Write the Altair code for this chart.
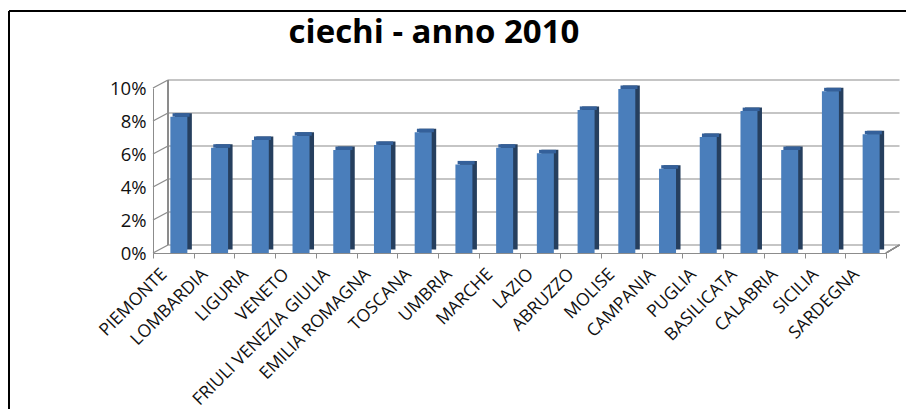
import altair as alt
import pandas as pd

regions = ["PIEMONTE", "LOMBARDIA", "LIGURIA", "VENETO", "FRIULI VENEZIA GIULIA",
           "EMILIA ROMAGNA", "TOSCANA", "UMBRIA", "MARCHE", "LAZIO", "ABRUZZO",
           "MOLISE", "CAMPANIA", "PUGLIA", "BASILICATA", "CALABRIA", "SICILIA", "SARDEGNA"]
values = [8.26, 6.38, 6.85, 7.11, 6.24, 6.55, 7.32, 5.37, 6.38, 6.04, 8.67,
          9.94, 5.11, 7.03, 8.60, 6.24, 9.80, 7.19]
y_ticks = [0, 2, 4, 6, 8, 10]
title_text = ["ciechi - anno 2010"]

W, H = 733, 165
DX, DY = 15, -8  # depth of the back wall

df = pd.DataFrame({"region": regions, "v": values})
grid = pd.DataFrame({"t": y_ticks})
tdf = pd.DataFrame({"title": title_text})

FONT = "Open Sans"
GRID = "#8c8c8c"

yscale = alt.Scale(domain=[0, 10], nice=False)
yaxis = alt.Axis(title=None, values=y_ticks, labelExpr="datum.value + '%'",
                 labelFont=FONT, labelFontSize=18.5, labelColor="#111111",
                 ticks=False, labelPadding=7, domainColor=GRID, grid=False,
                 labelOverlap=False)
xscale = alt.Scale(paddingInner=0, paddingOuter=0)
xaxis = alt.Axis(title=None, labelAngle=-45, labelFont=FONT, labelFontSize=17.5,
                 labelColor="#111111", labelOffset=-16, labelPadding=7,
                 tickBand="extent", tickColor=GRID, tickSize=5,
                 domainColor=GRID, labelLimit=400, labelOverlap=False)
xenc = alt.X("region:N", sort=regions, scale=xscale, axis=xaxis)

gridlines = alt.Chart(grid).mark_rule(color=GRID, strokeWidth=1.2, yOffset=DY).encode(
    y=alt.Y("t:Q", scale=yscale, axis=yaxis),
    x=alt.value(DX), x2=alt.value(W + 13.5))

diag = alt.Chart(grid).mark_rule(color=GRID, strokeWidth=1.2, y2Offset=DY).encode(
    y=alt.Y("t:Q", scale=yscale, axis=yaxis), y2="t:Q", x=alt.value(0), x2=alt.value(DX))

backleft = alt.Chart(grid).mark_rule(color=GRID, strokeWidth=1.2, yOffset=DY, y2Offset=DY).encode(
    y=alt.Y(datum=0, scale=yscale, axis=yaxis), y2=alt.datum(10), x=alt.value(DX))

floor_right = alt.Chart(grid).mark_rule(color=GRID, strokeWidth=1.2, y2Offset=DY).encode(
    y=alt.Y(datum=0, scale=yscale, axis=yaxis), y2=alt.datum(0),
    x=alt.value(W), x2=alt.value(W + 13.5))

side = alt.Chart(df).mark_bar(size=17, xOffset=10, yOffset=-3.5, y2Offset=-3.5,
                              color="#263f5e").encode(
    x=xenc, y=alt.Y("v:Q", scale=yscale, axis=yaxis))

top = alt.Chart(df).mark_bar(size=17, xOffset=7.7, yOffset=-3.5, y2Offset=0,
                             color="#34609a").encode(
    x=xenc, y=alt.Y("v:Q", scale=yscale, axis=yaxis), y2="v:Q")

front = alt.Chart(df).mark_bar(size=17, xOffset=5.5, color="#4a7ebb").encode(
    x=xenc, y=alt.Y("v:Q", scale=yscale, axis=yaxis))

title = alt.Chart(tdf).mark_text(font=FONT, fontSize=33, fontWeight="bold",
                                 color="#000000", baseline="middle", align="center").encode(
    text="title:N", x=alt.value(281), y=alt.value(-55))

frame_top = alt.Chart(tdf).mark_rule(color="#000000", strokeWidth=2).encode(
    x=alt.value(-144), x2=alt.value(760), y=alt.value(-77))
frame_left = alt.Chart(tdf).mark_rule(color="#000000", strokeWidth=2).encode(
    x=alt.value(-144), y=alt.value(-77), y2=alt.value(330))

chart = alt.layer(gridlines, diag, backleft, floor_right, side, top, front,
                  title, frame_top, frame_left).properties(
    width=W, height=H,
    autosize=alt.AutoSizeParams(type="none"),
    padding={"left": 145, "top": 80, "right": 20, "bottom": 156},
).configure_view(stroke=None)

chart.save("out.html", embed_options={"renderer": "svg", "actions": False})
